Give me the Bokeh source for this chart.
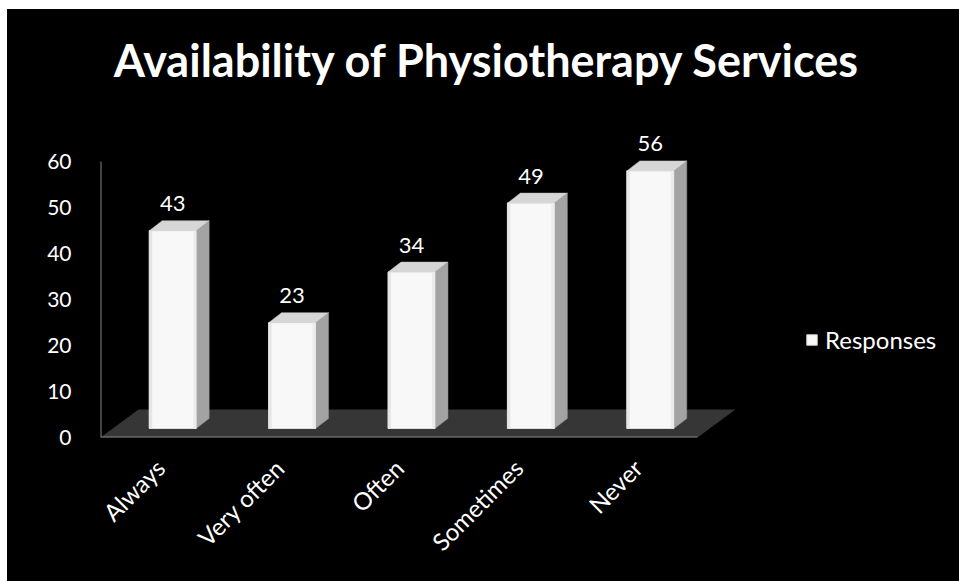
import math
from bokeh.plotting import figure
from bokeh.models import (Range1d, FixedTicker, LinearAxis, Legend, LegendItem,
                          Label, ColumnDataSource)
from bokeh.core.properties import value
from bokeh.embed import file_html
from bokeh.resources import INLINE

# ---------------- data ----------------
categories = ["Always", "Very often", "Often", "Sometimes", "Never"]
responses = [43, 23, 34, 49, 56]
y_ticks = [0, 10, 20, 30, 40, 50, 60]
series_name = "Responses"
title_text = "Availability of Physiotherapy Services"

# ---------------- layout (pixels) ----------------
OFF_X, OFF_Y = 7, 9                 # white page edge left / top
W, H = 959 - OFF_X, 581 - OFF_Y
AXIS_X, AXIS_Y = 100, 437           # page position of the axes corner
ML, MR, MT = AXIS_X - OFF_X, 0, 0
MB = H - (AXIS_Y - OFF_Y)
frame_w = W - ML - MR
frame_h = H - MT - MB
PX_Y = 4.6            # pixels per y unit
PX_X = 119.4          # pixels per category
y_end = frame_h / PX_Y
x_start = -0.5
x_end = x_start + frame_w / PX_X

# 3-D look (pixels -> data units)
bar_w = 47 / PX_X
bar_ox, bar_oy = 12.5 / PX_X, 9 / PX_Y        # bar front offset inside the floor
bar_dx, bar_dy = 13 / PX_X, 10 / PX_Y         # bar depth
floor_dx, floor_dy = 38 / PX_X, 28 / PX_Y     # floor depth

FONT = "Lato"
AXIS_GRAY = "#858585"

p = figure(width=W, height=H, x_range=Range1d(x_start, x_end),
           y_range=Range1d(0, y_end), output_backend="svg",
           toolbar_location=None, x_axis_type=None, y_axis_type=None,
           min_border_left=ML, min_border_right=MR, min_border_top=MT,
           min_border_bottom=MB, background_fill_color="#000000",
           border_fill_color="#000000", tools="")
p.outline_line_color = None
p.title.visible = False
p.styles = {"margin-left": f"{OFF_X}px", "margin-top": f"{OFF_Y}px",
            "background-color": "#000000"}

n = len(categories)

# y axis (labels only; the rule is drawn below through the data scales)
yaxis = LinearAxis(ticker=FixedTicker(ticks=y_ticks),
                   axis_line_color=None,
                   major_tick_line_color=None, minor_tick_line_color=None,
                   major_label_text_color="white", major_label_text_font=FONT,
                   major_label_text_font_size="21px", major_label_standoff=23)
p.add_layout(yaxis, "left")

# x axis
xaxis = LinearAxis(ticker=FixedTicker(ticks=list(range(n))),
                   major_label_overrides={i: c for i, c in enumerate(categories)},
                   major_label_orientation=math.pi / 4,
                   axis_line_color=None,
                   major_tick_line_color=None, minor_tick_line_color=None,
                   major_label_text_color="white", major_label_text_font=FONT,
                   major_label_text_font_size="24px", major_label_standoff=20)
p.add_layout(xaxis, "below")

# floor
fx = [-0.5, n - 0.5, n - 0.5 + floor_dx, -0.5 + floor_dx]
fy = [0, 0, floor_dy, floor_dy]
p.patch(fx, fy, fill_color="#363636", line_color=None)

# axis rules
p.segment(x0=[-0.5, -0.5], y0=[0, 0], x1=[-0.5, n - 0.5], y1=[y_ticks[-1], 0],
          line_color=AXIS_GRAY, line_width=2)

# bars
fx0 = [i - bar_w / 2 + bar_ox for i in range(n)]
fx1 = [i + bar_w / 2 + bar_ox for i in range(n)]
fb = [bar_oy] * n
ft = [v + bar_oy for v in responses]

side_xs = [[a, a + bar_dx, a + bar_dx, a] for a in fx1]
side_ys = [[b, b + bar_dy, t + bar_dy, t] for b, t in zip(fb, ft)]
top_xs = [[a0, a1, a1 + bar_dx, a0 + bar_dx] for a0, a1 in zip(fx0, fx1)]
top_ys = [[t, t, t + bar_dy, t + bar_dy] for t in ft]

p.patches(side_xs, side_ys, fill_color="#a3a3a3", line_color="#8f8f8f", line_width=0.5)
p.patches(top_xs, top_ys, fill_color="#d6d6d6", line_color="#c4c4c4", line_width=0.5)
src = ColumnDataSource(dict(left=fx0, right=fx1, bottom=fb, top=ft,
                            xc=[i + bar_ox for i in range(n)],
                            lab=[str(v) for v in responses]))
front = p.quad(left="left", right="right", bottom="bottom", top="top", source=src,
               fill_color="#f8f8f8", line_color="#dcdcdc", line_width=1)
# subtle edge shading on the front faces
edge = 3 / PX_X
p.quad(left=fx0, right=[a + edge for a in fx0], bottom=fb, top=ft,
       fill_color="#e6e6e6", line_color=None)
p.quad(left=[a - edge for a in fx1], right=fx1, bottom=fb, top=ft,
       fill_color="#ececec", line_color=None)

# data labels
p.text(x="xc", y="top", text="lab", source=src, text_align="center",
       text_baseline="middle", y_offset=-27, text_color="white",
       text_font=value(FONT), text_font_size="22px")

# title (positioned through the data scales)
title_x = x_start + (487 - AXIS_X) / PX_X
title_y = (AXIS_Y - 59) / PX_Y
p.add_layout(Label(x=title_x, y=title_y, text=title_text, text_align="center",
                   text_baseline="middle", text_color="white", text_font=FONT,
                   text_font_style="bold", text_font_size="45px"))

# legend
legend = Legend(items=[LegendItem(label=series_name, renderers=[front])],
                location=(705, 83), background_fill_alpha=0, border_line_color=None,
                label_text_color="white", label_text_font=FONT,
                label_text_font_size="24px", glyph_width=13, glyph_height=13,
                padding=0, margin=0, label_standoff=7, spacing=0)
p.add_layout(legend)

open("out.html", "w").write(file_html(p, INLINE))
